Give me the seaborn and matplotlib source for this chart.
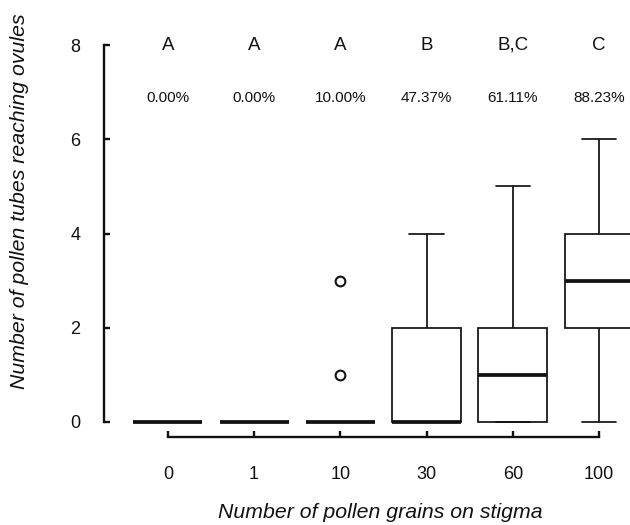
import numpy as np
import pandas as pd
import matplotlib
matplotlib.use("Agg")
import matplotlib.pyplot as plt
import seaborn as sns

# Categories (pollen grains on stigma) and raw counts of tubes reaching ovules
grains = ["0", "1", "10", "30", "60", "100"]
tubes_0 = [0] * 12
tubes_1 = [0] * 12
tubes_10 = [0] * 18 + [1, 3]
tubes_30 = [0] * 10 + [1, 1, 1, 2, 2, 2, 3, 4, 4]
tubes_60 = [0] * 7 + [1, 1, 1, 2, 2, 2, 2, 3, 4, 4, 5]
tubes_100 = [0, 0, 1, 2, 2, 2, 3, 3, 3, 3, 4, 4, 4, 5, 5, 6, 6]

letters = ["A", "A", "A", "B", "B,C", "C"]
percents = ["0.00%", "0.00%", "10.00%", "47.37%", "61.11%", "88.23%"]

groups = [tubes_0, tubes_1, tubes_10, tubes_30, tubes_60, tubes_100]
df = pd.DataFrame({
    "grains": np.repeat(grains, [len(g) for g in groups]),
    "tubes": np.concatenate(groups),
})

sns.set_style("white")
plt.rcParams["font.family"] = ["Liberation Sans", "DejaVu Sans"]
plt.rcParams["text.color"] = "black"

fig = plt.figure(figsize=(6.3, 5.25), dpi=100)
ax = fig.add_axes([104 / 630, 88 / 525, 559 / 630, 407 / 525])

sns.boxplot(data=df, x="grains", y="tubes", order=grains, ax=ax,
            color="white", linecolor="#111111", linewidth=1.25, width=0.8,
            fliersize=7,
            medianprops={"linewidth": 2.7},
            flierprops={"marker": "o", "markerfacecolor": "none",
                        "markeredgecolor": "#111111", "markeredgewidth": 1.5})

ax.set_xlim(-0.74, 5.74)
ax.set_ylim(-0.32, 8.32)
ax.set_yticks([0, 2, 4, 6, 8])

for s in ["top", "right"]:
    ax.spines[s].set_visible(False)
ax.spines["left"].set_bounds(0, 8)
ax.spines["bottom"].set_bounds(0, 5)
for s in ["left", "bottom"]:
    ax.spines[s].set_linewidth(1.7)
    ax.spines[s].set_color("#111111")

ax.tick_params(axis="y", left=True, direction="in", length=4, width=1.7,
               pad=17, labelsize=13, colors="#111111")
ax.tick_params(axis="x", bottom=True, direction="in", length=4, width=1.7,
               pad=21, labelsize=13, colors="#111111")
ax.set_xlabel("")
ax.set_ylabel("")

for i in range(len(grains)):
    ax.text(i, 8.0, letters[i], ha="center", va="center", fontsize=13.5,
            color="#111111")
    ax.text(i, 6.88, percents[i], ha="center", va="center", fontsize=11,
            color="#111111")

fig.text(20 / 630, 1 - 201 / 525, "Number of pollen tubes reaching ovules",
         rotation=90, ha="center", va="center", fontsize=15.3, style="italic",
         color="#111111")
fig.text(380 / 630, 1 - 513 / 525, "Number of pollen grains on stigma",
         ha="center", va="center", fontsize=15.3, style="italic",
         color="#111111")

fig.savefig("out.png", dpi=100)
